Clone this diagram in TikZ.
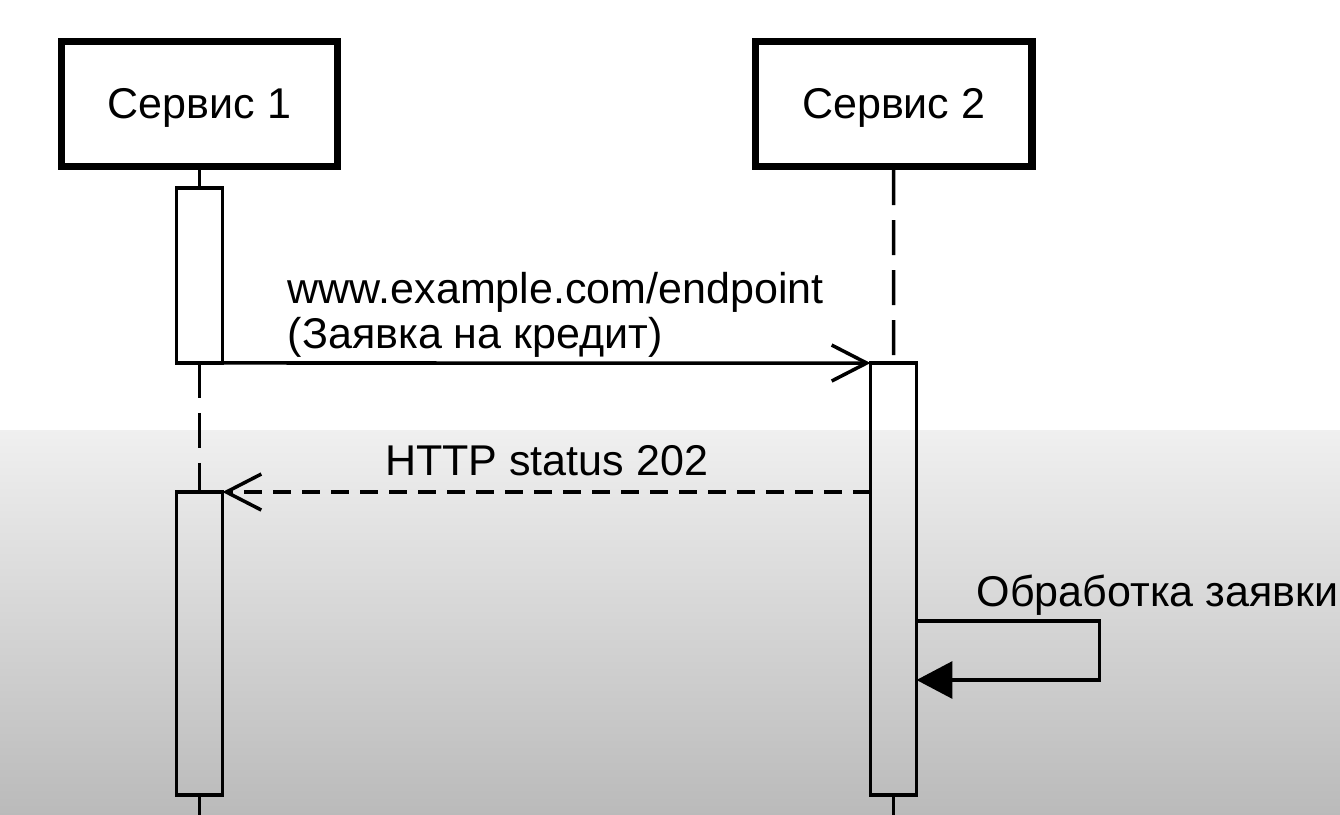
\documentclass[tikz,border=0pt]{standalone}
\usepackage{fontspec}
\setmainfont{Liberation Sans}
\usetikzlibrary{arrows.meta,positioning}

\begin{document}
\begin{tikzpicture}[x=0.02cm,y=-0.02cm,>={Straight Barb[length=0.7cm,width=0.72cm]},node distance=0.5cm]
  \tikzstyle{actor}=[draw,line width=4.2pt,minimum width=5.53cm,minimum height=2.5cm,text height=0.7cm,text depth=0.1cm,font=\fontsize{24.5}{24}\selectfont]
  \tikzstyle{act}=[draw,line width=2pt,minimum width=0.92cm,inner sep=0pt,outer sep=0pt]
  \tikzstyle{life}=[line width=2pt]
  \tikzstyle{lifedash}=[life,dash pattern=on 0.7cm off 0.3cm]
  \tikzstyle{msg}=[line width=2pt]
  \tikzstyle{txt}=[inner sep=0pt,align=left,font=\fontsize{24.5}{26}\selectfont]
  \fill[white] (0,0) rectangle (1340,430);
  \shade[top color=black!6,bottom color=black!27] (0,430) rectangle (1340,815);
  \useasboundingbox (0,0) rectangle (1340,815);
  \node[actor] (s1) at (199.5,104) {Сервис 1};
  \node[actor] (s2) at (893.7,104) {Сервис 2};
  \node[act,minimum height=3.5cm] (a1) at (199.5,275.5) {};
  \node[act,minimum height=6.06cm] (a3) at (199.5,643.5) {};
  \node[act,minimum height=8.64cm] (a2) at (893.5,579) {};
  \coordinate (end1) at (199.5,815);
  \coordinate (end2) at (893.5,815);
  \draw[life] (s1) -- (a1);
  \draw[lifedash] (a1) -- (a3);
  \draw[life] (a3) -- (end1);
  \draw[lifedash] (s2) -- (a2);
  \draw[life] (a2) -- (end2);
  \draw[msg,->] (a1.south east) -- (a2.north west);
  \node[txt,above right=0.1cm and 1.3cm of a1.south east] (req) {www.example.com/endpoint\\(Заявка на кредит)};
  \draw[msg,dash pattern=on 0.36cm off 0.22cm,->] (a2.west |- a3.north) -- node[txt,above=0.28cm] (http) {HTTP status 202} (a3.north east);
  \coordinate (loopout) at (a2.east |- 0,621);
  \coordinate (loopin) at (a2.east |- 0,680);
  \draw[msg,-{Triangle[length=0.72cm,width=0.74cm]}] (loopout) -- ++(183,0) |- (loopin);
  \node[txt,above right=0.1cm and 1.2cm of loopout] (proc) {Обработка заявки};
\end{tikzpicture}
\end{document}
